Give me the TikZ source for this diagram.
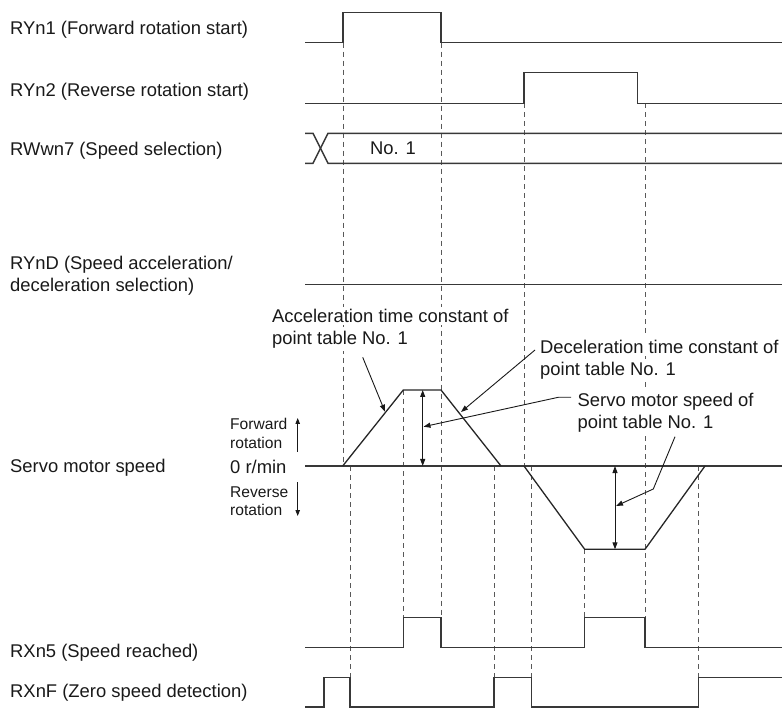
\documentclass[tikz,border=0pt]{standalone}
\usepackage{fontspec}
\setmainfont{Liberation Sans}
\usetikzlibrary{arrows.meta}
\begin{document}
\begin{tikzpicture}[x=1pt,y=-1pt,
  sig/.style={line width=1.5pt, draw=black!78, line join=miter},
  guide/.style={line width=1pt, draw=black!65, dash pattern=on 5pt off 4pt},
  prof/.style={line width=1.3pt, draw=black!85},
  lead/.style={line width=0.9pt, draw=black!90},
  tip/.style={-{Triangle[length=7pt,width=5pt]}},
  dtip/.style={{Triangle[length=7pt,width=5pt]}-{Triangle[length=7pt,width=5pt]}},
  stip/.style={-{Triangle[length=6pt,width=4.5pt]}},
  lbl/.style={anchor=base west, inner sep=0pt, font=\fontsize{18.4}{22}\selectfont, text=black!90},
  ann/.style={lbl, fill=white, inner xsep=1pt, inner ysep=2.5pt},
  small/.style={anchor=base west, inner sep=0pt, font=\fontsize{15.6}{18}\selectfont, text=black!90}
]
\useasboundingbox (0,0) rectangle (782,708);

% ---------- left labels ----------
\node[lbl] (l1) at (10,35) {RYn1 (Forward rotation start)};
\node[lbl] (l2) at (10,96.7) {RYn2 (Reverse rotation start)};
\node[lbl] (l3) at (10,156) {RWwn7 (Speed selection)};
\node[lbl] (l4a) at (10,269.5) {RYnD (Speed acceleration/};
\node[lbl] (l4b) at (10,291.8) {deceleration selection)};
\node[lbl] (l5) at (10,472) {Servo motor speed};
\node[lbl] (l6) at (10,657.5) {RXn5 (Speed reached)};
\node[lbl] (l7) at (10,697.5) {RXnF (Zero speed detection)};

% ---------- dashed guide lines ----------
\draw[guide] (343,42.7) -- (343,466);
\draw[guide] (350,466) -- (350,677.7);
\draw[guide] (403.3,390) -- (403.3,617.3);
\draw[guide] (441,42.7) -- (441,617.3);
\draw[guide] (494,466) -- (494,677.7);
\draw[guide] (524,103.3) -- (524,466);
\draw[guide] (531.7,466) -- (531.7,677.7);
\draw[guide] (584.7,549.3) -- (584.7,617.3);
\draw[guide] (645,103.3) -- (645,617.3);
\draw[guide] (698.3,466) -- (698.3,677.7);

% ---------- annotation texts ----------
\node[ann] (a1) at (271,322.7) {Acceleration time constant of};
\node[ann] (a2) at (271,345) {point table No. 1};
\node[ann] (d1) at (539,353.3) {Deceleration time constant of};
\node[ann] (d2) at (539,375.2) {point table No. 1};
\node[ann] (s1) at (576.5,406.5) {Servo motor speed of};
\node[ann] (s2) at (576.5,428.3) {point table No. 1};

% ---------- signals ----------
\draw[sig] (305,42.7) -- (343,42.7) -- (343,12.3) -- (441,12.3) -- (441,42.7) -- (782,42.7);
\draw[sig] (305,103.3) -- (524,103.3) -- (524,72.3) -- (637.7,72.3) -- (637.7,103.3) -- (782,103.3);
\draw[sig] (305,133.3) -- (313,133.3) -- (328,163.3) -- (782,163.3);
\draw[sig] (305,163.3) -- (313,163.3) -- (328,133.3) -- (782,133.3);
\node[lbl] (no1) at (370,154.5) {No. 1};
\draw[sig] (305,284.7) -- (782,284.7);

% speed
\draw[sig] (305,466) -- (782,466);
\draw[prof] (342.7,466) -- (403.3,390) -- (441,390) -- (501,466);
\draw[prof] (524,466) -- (584.7,549.3) -- (645,549.3) -- (705,466);

\node[small] (fw1) at (230,430) {Forward};
\node[small] (fw2) at (230,448.3) {rotation};
\node[lbl] (zero) at (230,474) {0 r/min};
\node[small] (rv1) at (230,497) {Reverse};
\node[small] (rv2) at (230,515.3) {rotation};
\coordinate (upa) at (297.7,452);
\coordinate (upb) at (297.7,418);
\coordinate (dna) at (297.7,482);
\coordinate (dnb) at (297.7,516);
\draw[lead, stip] (upa) -- (upb);
\draw[lead, stip] (dna) -- (dnb);

% double arrows
\coordinate (fa) at (422.7,390);
\coordinate (fb) at (422.7,466);
\coordinate (ra) at (615,466);
\coordinate (rb) at (615,549.3);
\draw[lead, dtip] (fa) -- (fb);
\draw[lead, dtip] (ra) -- (rb);

% leaders
\coordinate (p1s) at (362.7,357.3);
\coordinate (p1e) at (385,411.7);
\draw[lead, tip] (p1s) -- (p1e);
\coordinate (p2s) at (535,350);
\coordinate (p2e) at (461,412);
\draw[lead, tip] (p2s) -- (p2e);
\coordinate (p3s) at (571,397.3);
\coordinate (p3m) at (558.3,397.3);
\coordinate (p3e) at (423.5,426.7);
\draw[lead, tip] (p3s) -- (p3m) -- (p3e);
\coordinate (p4s) at (675,436.7);
\coordinate (p4m) at (653.3,489);
\coordinate (p4e) at (616,506);
\draw[lead, tip] (p4s) -- (p4m) -- (p4e);

% RXn5
\draw[sig] (305,647.5) -- (403.3,647.5) -- (403.3,617.3) -- (441,617.3) -- (441,647.5) -- (584.7,647.5) -- (584.7,617.3) -- (645,617.3) -- (645,647.5) -- (782,647.5);
% RXnF
\draw[sig] (305,707) -- (324,707) -- (324,677.7) -- (350,677.7) -- (350,707) -- (494,707) -- (494,677.7) -- (531.7,677.7) -- (531.7,707) -- (698.3,707) -- (698.3,677.7) -- (782,677.7);
\end{tikzpicture}
\end{document}
